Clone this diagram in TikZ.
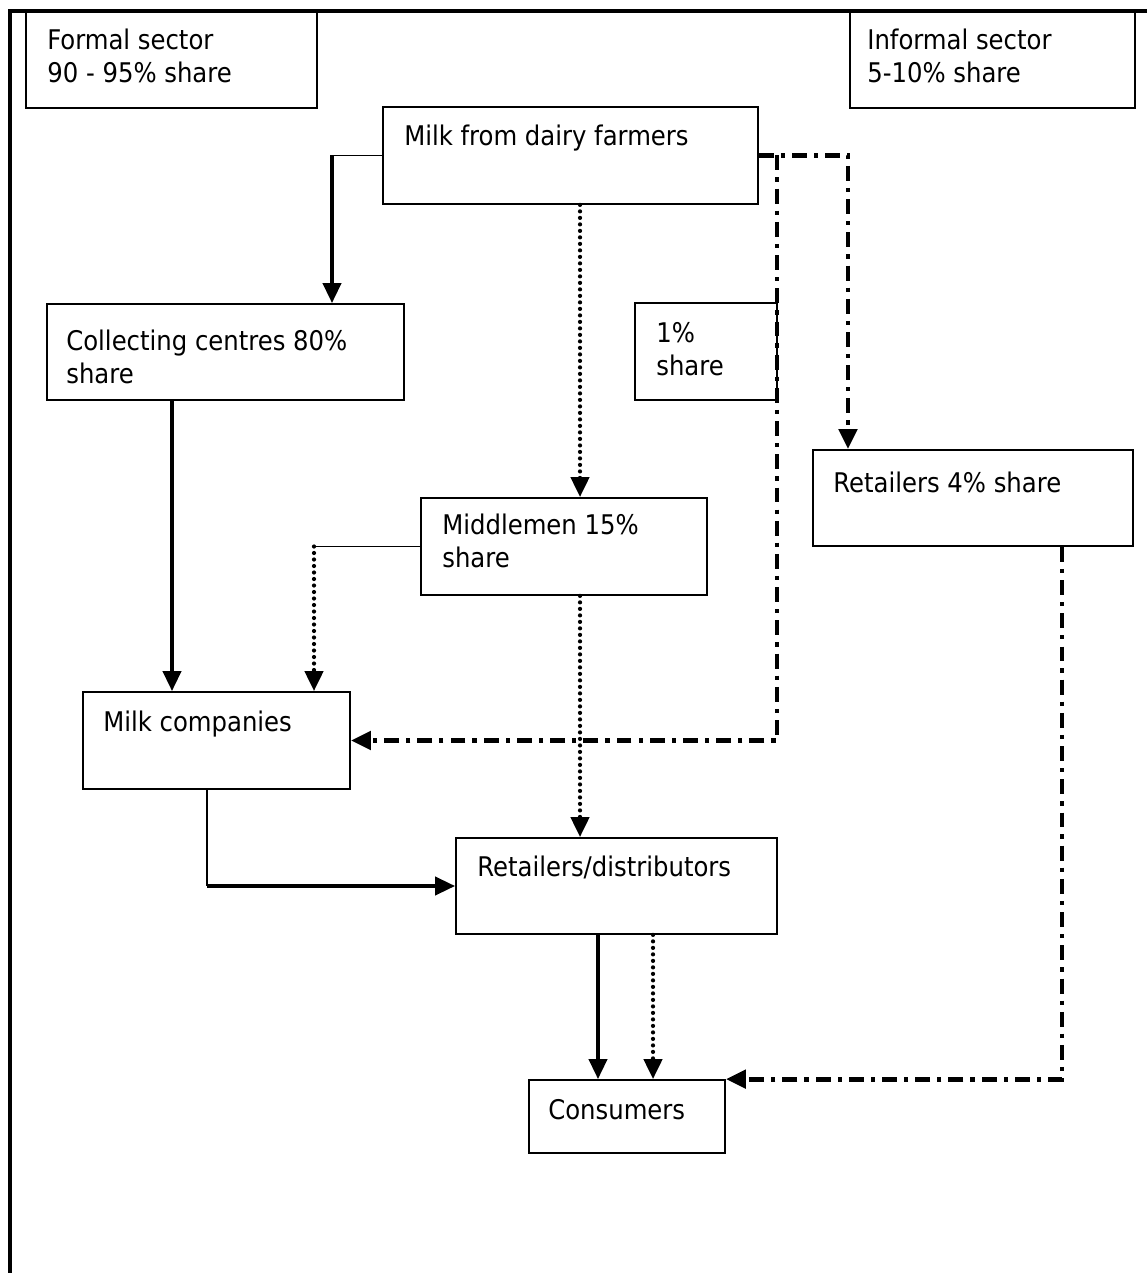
\documentclass[tikz,border=0pt]{standalone}
\usepackage{fontspec}
\setmainfont{DejaVu Sans Condensed}
\usetikzlibrary{arrows.meta,fit}
\tikzset{
  box/.style={draw,line width=1pt,inner sep=0pt},
  txt/.style={anchor=north west,inner sep=0pt,align=left,font=\fontsize{15.4}{18.8}\selectfont},
  link/.style={draw,line width=1pt},
  flow/.style={-{Triangle[length=4mm,width=3.6mm]},draw,line width=2.2pt},
  dotflow/.style={-{Triangle[length=4mm,width=3.6mm]},draw,line width=2.4pt,line cap=round,dash pattern=on 0pt off 3.7pt},
  dashflow/.style={-{Triangle[length=4mm,width=3.6mm]},draw,line width=2.8pt,dash pattern=on 8.5pt off 4pt on 2.4pt off 4pt},
  frame/.style={draw,line width=2pt}}
\begin{document}
\begin{tikzpicture}[x=0.02cm,y=-0.02cm]
  \useasboundingbox (0,0) rectangle (1147,1273);
  \draw[frame] (1147,11) -- (10,11) -- (10,1273);
  % boxes
  \node[box,fit={(26,11)(317,108)}] (formal) {};
  \node[box,fit={(850,11)(1135,108)}] (informal) {};
  \node[box,fit={(383,107)(758,204)}] (farm) {};
  \node[box,fit={(47,304)(404,400)}] (coll) {};
  \node[box,fit={(635,303)(777,400)}] (one) {};
  \node[box,fit={(813,450)(1133,546)}] (ret4) {};
  \node[box,fit={(421,498)(707,595)}] (mid) {};
  \node[box,fit={(83,692)(350,789)}] (comp) {};
  \node[box,fit={(456,838)(777,934)}] (retail) {};
  \node[box,fit={(529,1080)(725,1153)}] (cons) {};
  % texts
  \node[txt] (formaltxt) at (47,29) {Formal sector\\90 - 95\% share};
  \node[txt] (informaltxt) at (867,29) {Informal sector\\5-10\% share};
  \node[txt] (farmtxt) at (404,125) {Milk from dairy farmers};
  \node[txt] (colltxt) at (66,330) {Collecting centres 80\%\\share};
  \node[txt] (onetxt) at (656,322) {1\%\\share};
  \node[txt] (ret4txt) at (833,472) {Retailers 4\% share};
  \node[txt] (midtxt) at (442,514) {Middlemen 15\%\\share};
  \node[txt] (comptxt) at (103,711) {Milk companies};
  \node[txt] (retailtxt) at (477,856) {Retailers/distributors};
  \node[txt] (constxt) at (548,1099) {Consumers};
  % formal flows
  \draw[link] (farm.west) -- (farm.west -| 332,0) coordinate (c1);
  \draw[flow] (c1) -- (coll.north -| c1);
  \draw[flow] (coll.south -| 172,0) -- (comp.north -| 172,0);
  \draw[link] (comp.south -| 207,0) -- (retail.west -| 207,0) coordinate (c3);
  \draw[flow] (c3) -- (retail.west);
  \draw[flow] (retail.south -| 598,0) -- (cons.north -| 598,0);
  % middlemen flows
  \draw[dotflow] (farm.south -| 580,0) -- (mid.north -| 580,0);
  \draw[link] (mid.west) -- (mid.west -| 314,0) coordinate (c2);
  \draw[dotflow] (c2) -- (comp.north -| c2);
  \draw[dotflow] (mid.south -| 580,0) -- (retail.north -| 580,0);
  \draw[dotflow] (retail.south -| 653,0) -- (cons.north -| 653,0);
  % informal flows
  \draw[dashflow] (farm.east) -| (ret4.north -| 848,0);
  \draw[dashflow] (farm.east -| 777,0) |- (comp.east);
  \draw[dashflow] (ret4.south -| 1062,0) |- (cons.north east);
\end{tikzpicture}
\end{document}
